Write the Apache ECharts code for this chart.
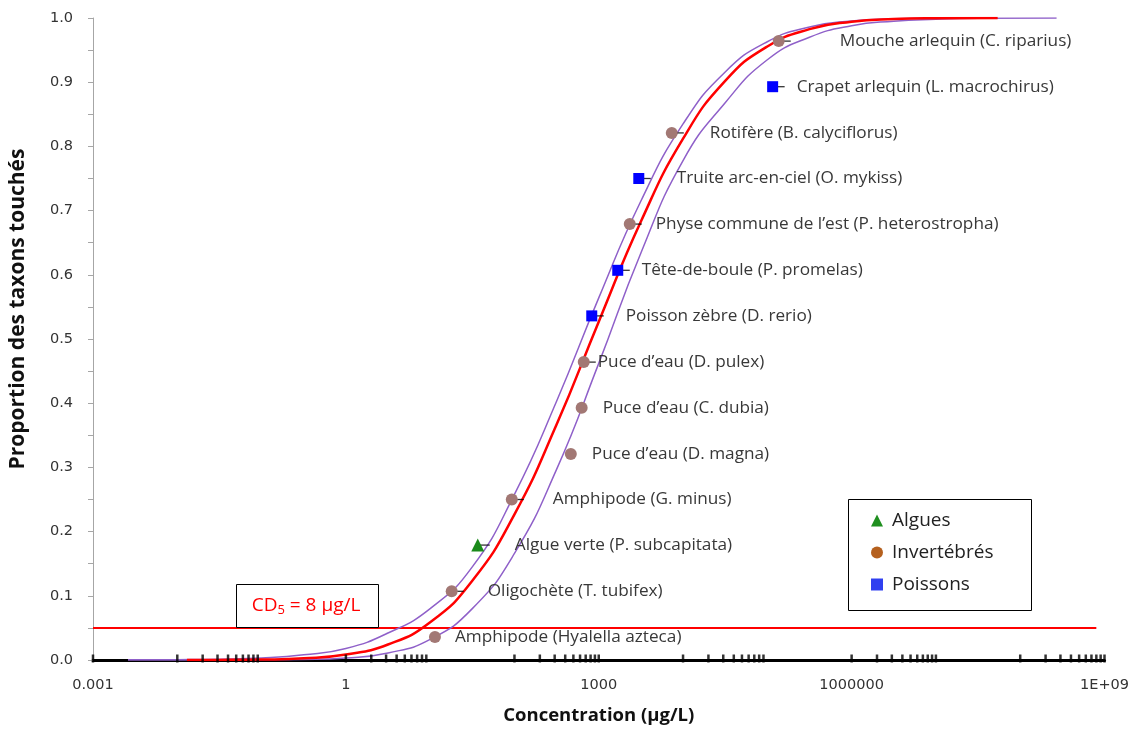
<!DOCTYPE html>
<html><head><meta charset="utf-8">
<script src="https://cdn.jsdelivr.net/npm/echarts@6/dist/echarts.min.js"></script>
<style>html,body{margin:0;padding:0;background:#fff}#c{width:1132px;height:738px}</style>
</head><body><div id="c"></div>
<script>
// ---- data ----
const taxa = ["Amphipode (Hyalella azteca)", "Oligochète (T. tubifex)", "Algue verte (P. subcapitata)", "Amphipode (G. minus)", "Puce d’eau (D. magna)", "Puce d’eau (C. dubia)", "Puce d’eau (D. pulex)", "Poisson zèbre (D. rerio)", "Tête-de-boule (P. promelas)", "Physe commune de l’est (P. heterostropha)", "Truite arc-en-ciel (O. mykiss)", "Rotifère (B. calyciflorus)", "Crapet arlequin (L. macrochirus)", "Mouche arlequin (C. riparius)"];
const groups = ["Invertébrés","Invertébrés","Algues","Invertébrés","Invertébrés","Invertébrés","Invertébrés","Poissons","Poissons","Invertébrés","Poissons","Invertébrés","Poissons","Invertébrés"];
const concentration = [11.4, 18, 36.7, 93, 466, 627, 664, 826, 1680, 2333, 2985, 7350, 115600, 136500];
const proportion = [0.036, 0.107, 0.179, 0.25, 0.321, 0.393, 0.464, 0.536, 0.607, 0.679, 0.75, 0.821, 0.893, 0.964];

const fitConc = [0.013, 0.0316, 0.1, 0.316, 1, 3.16, 10, 31.6, 100, 316, 1000, 3162, 10000, 31623, 100000, 316228, 1e6, 3162278, 1e7, 5.4e7];
const fitProp = [0.00005, 0.00015, 0.0007, 0.0026, 0.0086, 0.0241, 0.0587, 0.1235, 0.2269, 0.3667, 0.527, 0.683, 0.812, 0.902, 0.9556, 0.9826, 0.9941, 0.9983, 0.9996, 1.0];

const upperConc = [0.0026, 0.01, 0.0316, 0.1, 0.316, 1, 3.16, 10, 31.6, 100, 316, 1000, 3162, 10000, 31623, 1e5, 316228, 1e6, 3162278, 1.1e7];
const upperProp = [0.0002, 0.0005, 0.0012, 0.003, 0.008, 0.018, 0.042, 0.080, 0.145, 0.258, 0.403, 0.564, 0.715, 0.835, 0.916, 0.963, 0.986, 0.9953, 0.9987, 1.0];

const lowerConc = [0.0026, 0.01, 0.0316, 0.1, 0.316, 1, 3.16, 10, 31.6, 100, 316, 1000, 3162, 10000, 31623, 1e5, 316228, 1e6, 3162278, 1e7, 3.16e7, 2.7e8];
const lowerProp = [0, 0, 0.00003, 0.0002, 0.0008, 0.0032, 0.011, 0.032, 0.080, 0.166, 0.297, 0.462, 0.634, 0.778, 0.868, 0.935, 0.970, 0.988, 0.995, 0.998, 0.9995, 1.0];

const cd5Conc = [0.001, 8e8];
const cd5Level = [0.05, 0.05];

const rugConc = [0.001, 0.01,0.02,0.03,0.04,0.05,0.06,0.07,0.08,0.09, 1,2,3,4,5,6,7,8,9, 100,200,300,400,500,600,700,800,900,1000, 10000,20000,30000,40000,50000,60000,70000,80000,90000, 1e6,2e6,3e6,4e6,5e6,6e6,7e6,8e6,9e6,1e7, 1e8,2e8,3e8,4e8,5e8,6e8,7e8,8e8,9e8,1e9];

const xTickLabels = {"0.001":"0.001","1":"1","1000":"1000","1000000":"1000000","1000000000":"1E+09"};

// ---- styling ----
const LBL_FONT = "'Open Sans', sans-serif";
const TICK_FONT = "'DejaVu Sans', sans-serif";
const groupStyle = {
  "Algues": {color:'#1a8a1a', symbol:'triangle', size:13, legendColor:'#1f8f1f'},
  "Invertébrés": {color:'#a27874', symbol:'circle', size:12, legendColor:'#b5601e'},
  "Poissons": {color:'#0000ff', symbol:'rect', size:11, legendColor:'#3040f0'}
};
const labelGap = [20,36,37,41,21,21,14,34,24,26,38,38,24,61];
const hasLeader = [false,true,true,true,false,false,true,true,true,true,true,true,true,true];

function groupData(g){
  const out = [];
  taxa.forEach((t,i)=>{ if(groups[i]===g) out.push({value:[concentration[i], proportion[i]], name:t, label:{distance: labelGap[i]-groupStyle[g].size/2}}); });
  return out;
}
function zip(a,b){ return a.map((v,i)=>[v,b[i]]); }

const chart = echarts.init(document.getElementById('c'));
const scatterSeries = Object.keys(groupStyle).map(g=>({
  name:g, type:'scatter', z:5,
  symbol: groupStyle[g].symbol, symbolSize: groupStyle[g].size,
  itemStyle:{color: groupStyle[g].color, opacity:1},
  data: groupData(g),
  label:{show:true, position:'right', formatter:'{b}', color:'#383838', fontSize:17.2, fontFamily:LBL_FONT},
  emphasis:{disabled:true}
}));

chart.setOption({
  animation:false,
  backgroundColor:'#fff',
  grid:{left:93, right:27, top:18, bottom:78, containLabel:false},
  xAxis:{
    type:'log', logBase:1000, min:0.001, max:1e9, splitNumber:4,
    axisLine:{show:true, lineStyle:{color:'#000', width:3}},
    axisTick:{show:false},
    splitLine:{show:false},
    axisLabel:{fontFamily:TICK_FONT, fontSize:14.5, color:'#333', margin:18,
      formatter:v=>{ const key = v>=1 ? String(Math.round(v)) : String(+v.toPrecision(3)); return xTickLabels[key] || key; }},
    name:'Concentration (µg/L)', nameLocation:'middle', nameGap:46,
    nameTextStyle:{fontFamily:LBL_FONT, fontWeight:'bold', fontSize:18.5, color:'#111'}
  },
  yAxis:{
    type:'value', min:0, max:1, interval:0.1,
    axisLine:{show:true, lineStyle:{color:'#a6a6a6', width:1}},
    axisTick:{show:true, length:5, lineStyle:{color:'#a6a6a6'}},
    minorTick:{show:true, splitNumber:2, length:5, lineStyle:{color:'#a6a6a6'}},
    splitLine:{show:false},
    axisLabel:{fontFamily:TICK_FONT, fontSize:14.5, color:'#333', margin:20, formatter:v=>v.toFixed(1)},
    name:'Proportion des taxons touchés', nameLocation:'middle', nameGap:64,
    nameTextStyle:{fontFamily:LBL_FONT, fontWeight:'bold', fontSize:21, color:'#111', padding:[0,0,0,60]}
  },
  legend:{
    orient:'vertical', left:871, top:510, padding:0, itemGap:11, itemWidth:12, itemHeight:12,
    selectedMode:false,
    textStyle:{fontFamily:LBL_FONT, fontSize:19, color:'#222', lineHeight:21, padding:[0,0,0,4]},
    data:Object.keys(groupStyle).map(g=>({name:g, icon:groupStyle[g].symbol, itemStyle:{color:groupStyle[g].legendColor}}))
  },
  graphic:[
    {type:'rect', z:1, shape:{x:848.5, y:499.5, width:183, height:111}, style:{fill:'#fff', stroke:'#000', lineWidth:1}},
    {type:'rect', z:10, shape:{x:236.5, y:584.5, width:142, height:43}, style:{fill:'#fff', stroke:'#000', lineWidth:1}},
    {type:'text', z:11, style:{x:306, y:606, align:'center', verticalAlign:'middle',
      text:'{a|CD}{s|5}{a| = 8 µg/L}',
      rich:{a:{fontSize:19, fontFamily:LBL_FONT, fill:'#ff0000', lineHeight:22},
            s:{fontSize:13, fontFamily:LBL_FONT, fill:'#ff0000', lineHeight:13, verticalAlign:'bottom'}}}}
  ],
  series:[
    {name:'cd5', type:'line', data:zip(cd5Conc, cd5Level), showSymbol:false, silent:true, z:2,
      lineStyle:{color:'#ff0000', width:2}},
    {name:'lower', type:'line', data:zip(lowerConc, lowerProp), showSymbol:false, silent:true, smooth:0.5, z:2,
      lineStyle:{color:'#8f60c9', width:1.5}},
    {name:'upper', type:'line', data:zip(upperConc, upperProp), showSymbol:false, silent:true, smooth:0.5, z:2,
      lineStyle:{color:'#8f60c9', width:1.5}},
    {name:'fit', type:'line', data:zip(fitConc, fitProp), showSymbol:false, silent:true, smooth:0.5, z:3,
      lineStyle:{color:'#ff0000', width:2.5}},
    {name:'rug', type:'scatter', silent:true, z:4, symbol:'rect', symbolSize:[2.5,8], symbolOffset:[0,-1.5],
      itemStyle:{color:'#000'}, data:rugConc.map(c=>[c,0])},
    {name:'leaders', type:'scatter', silent:true, z:4, symbol:'rect', symbolSize:[10,1.3], symbolOffset:[7,0],
      itemStyle:{color:'#000'}, data:concentration.map((c,i)=>hasLeader[i]?[c, proportion[i]]:null).filter(d=>d)},
    ...scatterSeries
  ]
});
</script></body></html>
